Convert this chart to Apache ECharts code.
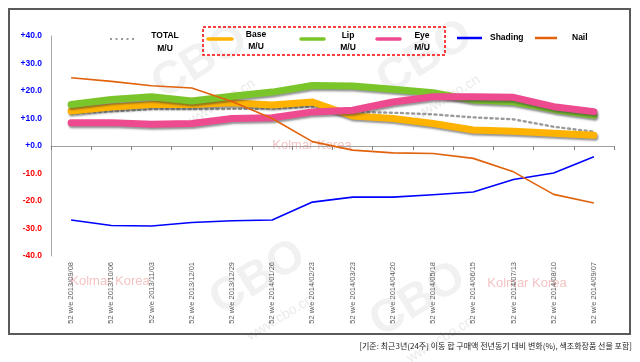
<!DOCTYPE html>
<html>
<head>
<meta charset="utf-8">
<script src="https://cdn.jsdelivr.net/npm/echarts@6/dist/echarts.min.js"></script>
<style>html,body{margin:0;padding:0;background:#fff;}#c{width:640px;height:362px;}</style>
</head>
<body>
<div id="c"></div>
<script>
var categories = ['52 w/e 2013/09/08','52 w/e 2013/10/06','52 w/e 2013/11/03','52 w/e 2013/12/01','52 w/e 2013/12/29','52 w/e 2014/01/26','52 w/e 2014/02/23','52 w/e 2014/03/23','52 w/e 2014/04/20','52 w/e 2014/05/18','52 w/e 2014/06/15','52 w/e 2014/07/13','52 w/e 2014/08/10','52 w/e 2014/09/07'];
var totalMU = [11.8, 12.6, 13.4, 13.4, 13.5, 13.6, 14.3, 12.4, 12.1, 11.5, 10.4, 9.7, 7.0, 5.2];
var baseMU  = [12.7, 14.2, 15.1, 15.1, 15.7, 14.9, 16.0, 10.9, 10.0, 8.2, 5.8, 5.4, 4.6, 3.9];
var lipMU   = [15.1, 16.9, 17.9, 16.4, 18.1, 19.6, 22.0, 21.8, 20.6, 19.4, 16.7, 16.1, 13.3, 11.2];
var eyeMU   = [8.5, 8.5, 7.9, 8.2, 10.0, 10.3, 12.4, 13.0, 16.0, 17.9, 17.9, 17.7, 14.3, 12.5];
var shading = [-26.9, -28.9, -29.1, -27.8, -27.2, -26.9, -20.4, -18.6, -18.6, -17.7, -16.7, -12.2, -9.8, -3.9];
var nail    = [24.8, 23.5, 21.9, 21.1, 16.2, 10.0, 1.6, -1.5, -2.5, -2.7, -4.5, -9.4, -17.6, -20.7];
var yTicks = [-40, -30, -20, -10, 0, 10, 20, 30, 40];

var chart = echarts.init(document.getElementById('c'), null, {renderer: 'canvas'});
var F = '"Liberation Sans", Arial, sans-serif';
var KF = '"Noto Sans CJK KR", "Liberation Sans", sans-serif';

function thick(name, data, color, z) {
  return {
    name: name, type: 'line', xAxisIndex: 1, data: data, symbol: 'none', z: z,
    lineStyle: {color: color, width: 7, cap: 'round', join: 'round',
      shadowColor: 'rgba(60,60,60,0.55)', shadowBlur: 2, shadowOffsetX: 1, shadowOffsetY: 2},
    itemStyle: {color: color}
  };
}

var wm = [];
[[200, 62], [425, 58], [258, 278], [418, 300]].forEach(function (p) {
  wm.push({type: 'text', x: p[0], y: p[1], rotation: 0.55, z: 0, silent: true,
    style: {text: 'CBO', font: 'bold 46px ' + F, fill: '#F1F1F1', align: 'center', verticalAlign: 'middle'}});
  wm.push({type: 'text', x: p[0] + 22, y: p[1] + 40, rotation: 0.55, z: 0, silent: true,
    style: {text: 'www.cbo.cn', font: '14px ' + F, fill: '#EAEAEA', align: 'center', verticalAlign: 'middle'}});
});
[[110, 281], [312, 145], [527, 283]].forEach(function (p) {
  wm.push({type: 'text', x: p[0], y: p[1], z: 0, silent: true,
    style: {text: 'Kolmar Korea', font: '13px ' + F, fill: '#F4C4C4', align: 'center', verticalAlign: 'middle'}});
});

var legendG = [
  {type: 'line', shape: {x1: 110, y1: 39, x2: 137, y2: 39}, style: {stroke: '#9A9A9A', lineWidth: 2.2, lineDash: [2, 3.5]}},
  {type: 'text', x: 165, y: 42, style: {text: 'TOTAL\nM/U', font: 'bold 8.5px ' + F, fill: '#000', align: 'center', verticalAlign: 'middle', lineHeight: 12.5}},
  {type: 'rect', shape: {x: 203, y: 27, width: 242, height: 28}, style: {fill: 'none', stroke: '#FF0000', lineWidth: 1.5, lineDash: [3, 2]}},
  {type: 'line', shape: {x1: 208, y1: 39, x2: 232, y2: 39}, style: {stroke: '#FFB300', lineWidth: 3.5, lineCap: 'round'}},
  {type: 'text', x: 256, y: 41, style: {text: 'Base\nM/U', font: 'bold 8.5px ' + F, fill: '#000', align: 'center', verticalAlign: 'middle', lineHeight: 12}},
  {type: 'line', shape: {x1: 301, y1: 39, x2: 324, y2: 39}, style: {stroke: '#7AC52A', lineWidth: 3.5, lineCap: 'round'}},
  {type: 'text', x: 348, y: 41.5, style: {text: 'Lip\nM/U', font: 'bold 8.5px ' + F, fill: '#000', align: 'center', verticalAlign: 'middle', lineHeight: 12}},
  {type: 'line', shape: {x1: 377, y1: 39, x2: 400, y2: 39}, style: {stroke: '#EE4A90', lineWidth: 3.5, lineCap: 'round'}},
  {type: 'text', x: 422, y: 41.5, style: {text: 'Eye\nM/U', font: 'bold 8.5px ' + F, fill: '#000', align: 'center', verticalAlign: 'middle', lineHeight: 12}},
  {type: 'line', shape: {x1: 457, y1: 38, x2: 482, y2: 38}, style: {stroke: '#0000FF', lineWidth: 2.5}},
  {type: 'text', x: 490, y: 38, style: {text: 'Shading', font: 'bold 8.5px ' + F, fill: '#000', align: 'left', verticalAlign: 'middle'}},
  {type: 'line', shape: {x1: 535, y1: 38, x2: 557, y2: 38}, style: {stroke: '#E0620C', lineWidth: 2.5}},
  {type: 'text', x: 572, y: 38, style: {text: 'Nail', font: 'bold 8.5px ' + F, fill: '#000', align: 'left', verticalAlign: 'middle'}}
];

var frame = [
  {type: 'rect', shape: {x: 9, y: 9, width: 621, height: 325}, z: 100, silent: true,
   style: {fill: 'none', stroke: '#5A5A5A', lineWidth: 2}},
  {type: 'text', x: 632, y: 346, style: {text: '[기준: 최근3년(24주) 이동 합 구매액 전년동기 대비 변화(%), 색조화장품 선물 포함]', font: '8px ' + KF, fill: '#222', align: 'right', verticalAlign: 'middle'}}
];

chart.setOption({
  animation: false,
  backgroundColor: '#fff',
  legend: {show: false},
  grid: {left: 51, right: 26, top: 36, bottom: 106, containLabel: false},
  xAxis: [{
    // band-boundary axis: line and ticks drawn on the zero line
    type: 'value', min: 0, max: categories.length, interval: 1, position: 'bottom',
    axisLine: {show: true, onZero: true, lineStyle: {color: '#A0A0A0', width: 1}},
    axisTick: {show: true, length: 4, lineStyle: {color: '#808080', width: 1}},
    axisLabel: {show: false}, splitLine: {show: false}
  }, {
    type: 'category', data: categories, boundaryGap: true, position: 'bottom',
    axisLine: {show: false, onZero: false}, axisTick: {show: false},
    axisLabel: {show: true, rotate: 90, interval: 0, margin: 6, fontSize: 7.5, fontFamily: F, color: '#5A5A5A'}
  }],
  yAxis: {
    type: 'value', min: -40, max: 40, interval: 10,
    axisLine: {show: true, onZero: false, lineStyle: {color: '#A6A6A6'}},
    axisTick: {show: false}, splitLine: {show: false},
    axisLabel: {
      margin: 9, fontSize: 8.5, fontWeight: 'bold', fontFamily: F,
      formatter: function (v) { return (v >= 0 ? '+' : '') + v.toFixed(1); },
      color: function (v) { return Number(v) >= 0 ? '#0000FF' : '#FF0000'; }
    }
  },
  graphic: wm.concat(legendG, frame),
  series: [
    {name: 'TOTAL M/U', type: 'line', xAxisIndex: 1, data: totalMU, symbol: 'none', z: 2,
     lineStyle: {color: '#9A9A9A', width: 2.4, type: [2, 3.6], cap: 'round'}, itemStyle: {color: '#9A9A9A'}},
    thick('Base M/U', baseMU, '#FFB300', 3),
    thick('Lip M/U', lipMU, '#7AC52A', 4),
    thick('Eye M/U', eyeMU, '#EE4A90', 5),
    {name: 'Shading', type: 'line', xAxisIndex: 1, data: shading, symbol: 'none', z: 6,
     lineStyle: {color: '#0000FF', width: 1.6, join: 'round'}, itemStyle: {color: '#0000FF'}},
    {name: 'Nail', type: 'line', xAxisIndex: 1, data: nail, symbol: 'none', z: 7,
     lineStyle: {color: '#E0620C', width: 1.6, join: 'round'}, itemStyle: {color: '#E0620C'}}
  ]
});
</script>
</body>
</html>
